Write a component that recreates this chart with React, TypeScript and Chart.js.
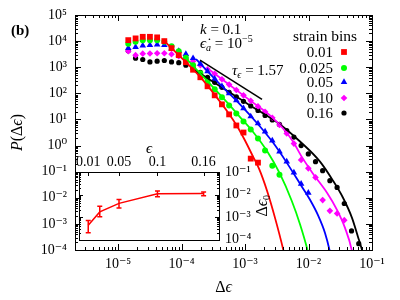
import React, { useEffect, useRef } from "react";
import { Chart, registerables } from "chart.js";
Chart.register(...registerables);

const FONT = "'Liberation Serif', 'DejaVu Serif', serif";

// ---- main panel data: binned strain increments (x) ----
const dEps = [1.45e-5, 1.89e-5, 2.45e-5, 3.18e-5, 4.13e-5, 5.36e-5, 6.96e-5, 9.04e-5, 1.17e-4, 1.52e-4, 1.98e-4, 2.57e-4, 3.33e-4, 4.33e-4, 5.62e-4, 7.30e-4, 9.47e-4, 1.23e-3, 1.60e-3, 2.07e-3, 2.69e-3, 3.49e-3, 4.54e-3, 5.89e-3, 7.65e-3, 9.93e-3, 1.29e-2, 1.67e-2, 2.17e-2, 2.82e-2, 3.66e-2, 4.76e-2, 6.18e-2];

// P(Δϵ) for each strain bin
const pBin001 = [1.09e4, 1.27e4, 1.46e4, 1.46e4, 1.39e4, 1.0e4, 5.38e3, 2.90e3, 1.56e3, 801, 412, 186, 83.8, 37.8, 15.6, 5.88, 3.16, 0.316, 0.222];
const pBin0025 = [7.88e3, 9.4e3, 1.09e4, 1.09e4, 1.09e4, 9.4e3, 6.42e3, 4.12e3, 2.32e3, 1.19e3, 588, 290, 143, 70.2, 34.5, 17.0, 8.38, 4.12, 1.86, 0.642, 0.170, 0.0767];
const pBin005 = [5.38e3, 5.88e3, 6.71e3, 7.02e3, 7.33e3, 7.02e3, 5.15e3, 4.12e3, 3.16e3, 2.22e3, 1.36e3, 702, 361, 186, 100, 53.8, 26.5, 13.0, 7.02, 3.45, 1.56, 0.588, 0.242, 0.0916, 0.0345, 0.0156];
const pBin010 = [4.12e3, 2.90e3, 3.31e3, 3.36e3, 3.45e3, 3.45e3, 3.16e3, 2.65e3, 2.22e3, 1.70e3, 1.19e3, 838, 562, 345, 216, 134, 83.8, 51.5, 31.6, 19.8, 11.6, 6.14, 2.90, 1.19, 0.282, 0.134, 0.0604, 0.00816, 0.00316, 0.00249, 0.00139];
const pBin016 = [4.24e3, 2.22e3, 1.98e3, 1.60e3, 1.70e3, 1.81e3, 1.60e3, 1.49e3, 1.19e3, 916, 642, 412, 265, 170, 109, 73.3, 49.3, 33.0, 22.2, 14.3, 9.57, 6.42, 3.78, 2.12, 1.0, 0.480, 0.242, 0.109, 0.0451, 0.0249, 0.00604, 5.38e-4, 1.75e-4];

// fitted curves
const fit001X = [5.36e-5, 8.40e-5, 1.265e-4, 1.907e-4, 3.584e-4, 5.40e-4, 7.40e-4, 1.0e-3, 1.336e-3, 1.661e-3, 2.221e-3, 2.968e-3, 4.01e-3, 4.43e-3];
const fit001Y = [1.0e4, 3.45e3, 1.30e3, 463, 70.2, 18.6, 5.88, 1.56, 0.378, 0.130, 0.0186, 1.70e-3, 1.0e-4, 3.2e-5];
const fit0025X = [1.135e-4, 1.956e-4, 3.37e-4, 5.40e-4, 8.34e-4, 1.351e-3, 2.196e-3, 3.557e-3, 5.437e-3, 7.346e-3, 9.57e-3, 1.018e-2];
const fit0025Y = [2.43e3, 588, 143, 41.2, 12.3, 3.25, 0.642, 0.0816, 7.67e-3, 9.73e-4, 1.06e-4, 5.4e-5];
const fit005X = [1.692e-4, 4.04e-4, 8.34e-4, 1.722e-3, 2.760e-3, 4.537e-3, 7.346e-3, 1.056e-2, 1.427e-2, 1.819e-2, 2.141e-2, 2.261e-2];
const fit005Y = [2.03e3, 222, 37.8, 5.38, 1.30, 0.222, 0.0345, 8.38e-3, 2.03e-3, 4.51e-4, 1.0e-4, 4.9e-5];
const fit010X = [2.81e-4, 5.80e-4, 1.199e-3, 2.476e-3, 3.967e-3, 5.70e-3, 7.62e-3, 1.177e-2, 1.956e-2, 2.81e-2, 3.757e-2, 4.79e-2, 5.02e-2];
const fit010Y = [767, 203, 53.8, 14.3, 4.51, 1.43, 0.412, 0.0838, 0.0156, 3.45e-3, 7.02e-4, 1.0e-4, 4.9e-5];
const fit016X = [1.632e-4, 4.04e-4, 1.199e-3, 3.557e-3, 7.346e-3, 1.518e-2, 2.431e-2, 3.494e-2, 4.84e-2, 6.02e-2, 6.96e-2, 7.35e-2];
const fit016Y = [767, 186, 34.5, 6.42, 1.43, 0.242, 0.0451, 0.01, 1.70e-3, 3.16e-4, 1.0e-4, 5.9e-5];

// reference power-law segment (slope τϵ)
const slopeX = [1.955e-4, 1.853e-3];
const slopeY = [1858, 58.8];

const seriesNames = ["0.01", "0.025", "0.05", "0.10", "0.16"];
const seriesColors = ["#ff0000", "#00ff00", "#0000ff", "#ff00ff", "#000000"];

const xTickVals = [1e-5, 1e-4, 1e-3, 1e-2, 1e-1];
const xTickLabels = ["10⁻⁵", "10⁻⁴", "10⁻³", "10⁻²", "10⁻¹"];
const yTickVals = [1e-4, 1e-3, 1e-2, 1e-1, 1, 10, 100, 1e3, 1e4, 1e5];
const yTickLabels = ["10⁻⁴", "10⁻³", "10⁻²", "10⁻¹", "10⁰", "10¹", "10²", "10³", "10⁴", "10⁵"];

// ---- inset data: cutoff Δϵ0 vs strain ϵ ----
const insetStrain = [0.01, 0.025, 0.05, 0.1, 0.16];
const insetCutoff = [4.3e-4, 1.68e-3, 4.03e-3, 1.07e-2, 1.1e-2];
const insetLow = [1.98e-4, 1.03e-3, 2.48e-3, 7.98e-3, 8.8e-3];
const insetHigh = [7.0e-4, 3.01e-3, 5.96e-3, 1.43e-2, 1.3e-2];
const insetXTicks = [0.01, 0.05, 0.1, 0.16];
const insetXLabels = ["0.01", "0.05", "0.1", "0.16"];
const insetYTicks = [1e-4, 1e-3, 1e-2, 1e-1];
const insetYLabels = ["10⁻⁴", "10⁻³", "10⁻²", "10⁻¹"];

type Seg = { t: string; it?: boolean; b?: boolean; sz?: number; dy?: number };
function fontOf(s: Seg, base: number) {
  return `${s.it ? "italic " : ""}${s.b ? "bold " : ""}${s.sz ?? base}px ${FONT}`;
}
function drawRich(ctx: CanvasRenderingContext2D, segs: Seg[], x: number, y: number, align: string, base = 15) {
  ctx.textBaseline = "alphabetic";
  ctx.textAlign = "left";
  let w = 0;
  for (const s of segs) { ctx.font = fontOf(s, base); w += ctx.measureText(s.t).width; }
  let cx = align === "left" ? x : align === "right" ? x - w : x - w / 2;
  for (const s of segs) {
    ctx.font = fontOf(s, base);
    ctx.fillText(s.t, cx, y + (s.dy ?? 0));
    cx += ctx.measureText(s.t).width;
  }
}

function drawMarker(ctx: CanvasRenderingContext2D, style: string, x: number, y: number, r: number, color: string) {
  ctx.fillStyle = color;
  ctx.beginPath();
  if (style === "rect") {
    const s = Math.SQRT1_2 * r;
    ctx.rect(x - s, y - s, 2 * s, 2 * s);
  } else if (style === "triangle") {
    ctx.moveTo(x, y - r);
    ctx.lineTo(x + r * 0.866, y + r * 0.5);
    ctx.lineTo(x - r * 0.866, y + r * 0.5);
    ctx.closePath();
  } else if (style === "rectRot") {
    ctx.moveTo(x, y - r); ctx.lineTo(x + r, y); ctx.lineTo(x, y + r); ctx.lineTo(x - r, y); ctx.closePath();
  } else {
    ctx.arc(x, y, r, 0, Math.PI * 2);
  }
  ctx.fill();
}

const markerStyles = ["rect", "circle", "triangle", "rectRot", "circle"];
const markerRadius = [4.1, 3.0, 3.8, 3.3, 2.6];

function logTicks(min: number, max: number) {
  const out: { v: number; major: boolean }[] = [];
  for (let e = Math.floor(Math.log10(min)) - 1; e <= Math.ceil(Math.log10(max)); e++) {
    for (let m = 1; m <= 9; m++) {
      const v = m * Math.pow(10, e);
      if (v >= min * 0.9999 && v <= max * 1.0001) out.push({ v, major: m === 1 });
    }
  }
  return out;
}

const mainDecor = {
  id: "mainDecor",
  afterDraw(chart: any) {
    const { ctx, chartArea: a, scales } = chart;
    const xs = scales.x, ys = scales.y;
    ctx.save();
    ctx.strokeStyle = "#000";
    ctx.lineWidth = 1;
    ctx.beginPath();
    for (const t of logTicks(xs.min, xs.max)) {
      const px = Math.round(xs.getPixelForValue(t.v)) + 0.5;
      const len = t.major ? 6 : 3;
      ctx.moveTo(px, a.bottom); ctx.lineTo(px, a.bottom - len);
      ctx.moveTo(px, a.top); ctx.lineTo(px, a.top + len);
    }
    for (const t of logTicks(ys.min, ys.max)) {
      const py = Math.round(ys.getPixelForValue(t.v)) + 0.5;
      const len = t.major ? 6 : 3;
      ctx.moveTo(a.left, py); ctx.lineTo(a.left + len, py);
      ctx.moveTo(a.right, py); ctx.lineTo(a.right - len, py);
    }
    ctx.stroke();
    ctx.strokeRect(Math.round(a.left) + 0.5, Math.round(a.top) + 0.5, Math.round(a.right - a.left), Math.round(a.bottom - a.top));

    ctx.fillStyle = "#000";
    // panel label
    drawRich(ctx, [{ t: "(b)", b: true }], 11, 35, "left", 15);
    // axis titles
    drawRich(ctx, [{ t: "Δ" }, { t: "ϵ", it: true }], (a.left + a.right) / 2, 292, "center", 16);
    ctx.save();
    ctx.translate(17, (a.top + a.bottom) / 2);
    ctx.rotate(-Math.PI / 2);
    drawRich(ctx, [{ t: "P", it: true }, { t: "(Δ" }, { t: "ϵ", it: true }, { t: ")" }], 0, 5, "center", 16);
    ctx.restore();
    // annotations
    drawRich(ctx, [{ t: "k", it: true }, { t: " = 0.1" }], 200, 34, "left", 15);
    drawRich(ctx, [{ t: "ϵ̇", it: true }, { t: "a", it: true, sz: 10, dy: 3 }, { t: " = 10" }, { t: "−5", sz: 10, dy: -6 }], 200, 48, "left", 15);
    drawRich(ctx, [{ t: "τ", it: true }, { t: "ϵ", it: true, sz: 10, dy: 3 }, { t: " = 1.57" }], 232, 75, "left", 15);
    // legend
    drawRich(ctx, [{ t: "strain bins" }], 293, 41, "left", 15.5);
    const legY = [52, 68, 82, 98, 113];
    seriesNames.forEach((n, i) => {
      ctx.fillStyle = "#000";
      drawRich(ctx, [{ t: n }], 333, legY[i] + 5, "right", 15);
      drawMarker(ctx, markerStyles[i], 344, legY[i], markerRadius[i], seriesColors[i]);
    });
    ctx.restore();
  },
};

const insetDecor = {
  id: "insetDecor",
  beforeDraw(chart: any) {
    const { ctx, chartArea: a } = chart;
    ctx.save();
    ctx.fillStyle = "#fff";
    ctx.fillRect(a.left, a.top, a.right - a.left, a.bottom - a.top);
    ctx.restore();
  },
  afterDraw(chart: any) {
    const { ctx, chartArea: a, scales } = chart;
    const xs = scales.x, ys = scales.y;
    ctx.save();
    ctx.strokeStyle = "#000";
    ctx.lineWidth = 1;
    ctx.beginPath();
    for (const v of insetXTicks) {
      const px = Math.round(xs.getPixelForValue(v)) + 0.5;
      ctx.moveTo(px, a.top); ctx.lineTo(px, a.top + 4);
    }
    for (const t of logTicks(ys.min, ys.max)) {
      const py = Math.round(ys.getPixelForValue(t.v)) + 0.5;
      const len = t.major ? 4 : 2;
      ctx.moveTo(a.left, py); ctx.lineTo(a.left + len, py);
      ctx.moveTo(a.right, py); ctx.lineTo(a.right - len, py);
    }
    ctx.stroke();
    ctx.strokeRect(Math.round(a.left) + 0.5, Math.round(a.top) + 0.5, Math.round(a.right - a.left), Math.round(a.bottom - a.top));
    ctx.fillStyle = "#000";
    drawRich(ctx, [{ t: "ϵ", it: true }], (a.left + a.right) / 2, 23, "center", 15);
    ctx.save();
    ctx.translate(192, (a.top + a.bottom) / 2);
    ctx.rotate(-Math.PI / 2);
    drawRich(ctx, [{ t: "Δ" }, { t: "ϵ", it: true }, { t: "0", sz: 10, dy: 3 }], 0, 5, "center", 16);
    ctx.restore();
    ctx.restore();
  },
};

function pts(xs: number[], ys: number[]) {
  return ys.map((y, i) => ({ x: xs[i], y }));
}

function fixPad(s: any) {
  s.paddingTop = 0; s.paddingBottom = 0; s.paddingLeft = 0; s.paddingRight = 0;
}

export default function App() {
  const mainRef = useRef<HTMLCanvasElement>(null);
  const insetRef = useRef<HTMLCanvasElement>(null);

  useEffect(() => {
    const binVals = [pBin001, pBin0025, pBin005, pBin010, pBin016];
    const fits: [number[], number[]][] = [[fit001X, fit001Y], [fit0025X, fit0025Y], [fit005X, fit005Y], [fit010X, fit010Y], [fit016X, fit016Y]];
    const lineSets: any[] = fits.map(([fx, fy], i) => ({
      data: pts(fx, fy),
      borderColor: seriesColors[i],
      borderWidth: 1.8,
      pointRadius: 0,
      cubicInterpolationMode: "monotone",
      clip: 0,
    }));
    const slopeSet: any = {
      data: pts(slopeX, slopeY),
      borderColor: "#000",
      borderWidth: 1.5,
      pointRadius: 0,
    };
    const pointSets: any[] = binVals.map((vals, i) => ({
      data: pts(dEps, vals),
      showLine: false,
      pointStyle: markerStyles[i],
      pointRadius: markerRadius[i],
      pointBackgroundColor: seriesColors[i],
      pointBorderColor: seriesColors[i],
      pointBorderWidth: 0,
    }));

    const main = new Chart(mainRef.current as HTMLCanvasElement, {
      type: "line",
      data: { datasets: [...lineSets, slopeSet, ...pointSets] },
      options: {
        animation: false,
        responsive: false,
        events: [],
        layout: { padding: { left: 0, top: 15, right: 28, bottom: 0 } },
        plugins: { legend: { display: false }, tooltip: { enabled: false } },
        scales: {
          x: {
            type: "logarithmic",
            min: 2.1e-6,
            max: 0.1,
            grid: { display: false, drawTicks: false },
            border: { display: false },
            afterBuildTicks: (s: any) => { s.ticks = xTickVals.map((v) => ({ value: v })); },
            afterFit: (s: any) => { s.height = 50; fixPad(s); },
            ticks: { autoSkip: false, maxRotation: 0, padding: 6, color: "#000", font: { family: FONT, size: 14 }, callback: (_v: any, i: number) => xTickLabels[i] },
          },
          y: {
            type: "logarithmic",
            min: 1e-4,
            max: 1e5,
            grid: { display: false, drawTicks: false },
            border: { display: false },
            afterBuildTicks: (s: any) => { s.ticks = yTickVals.map((v) => ({ value: v })); },
            afterFit: (s: any) => { s.width = 75; fixPad(s); },
            ticks: { autoSkip: false, padding: 8, color: "#000", font: { family: FONT, size: 14 }, callback: (_v: any, i: number) => yTickLabels[i] },
          },
        },
      } as any,
      plugins: [mainDecor],
    });

    const barData: any[] = [];
    insetStrain.forEach((x, i) => {
      barData.push({ x, y: insetLow[i] }, { x, y: insetHigh[i] }, { x, y: NaN });
    });
    const inset = new Chart(insetRef.current as HTMLCanvasElement, {
      type: "line",
      data: {
        datasets: [
          { data: pts(insetStrain, insetCutoff), borderColor: "#ff0000", borderWidth: 1.5, pointRadius: 0 },
          { data: barData, borderColor: "#ff0000", borderWidth: 1.5, pointRadius: 0, spanGaps: false },
          { data: pts(insetStrain, insetLow), showLine: false, pointStyle: "line", pointRadius: 2.5, pointBorderColor: "#ff0000", pointBorderWidth: 1.5 },
          { data: pts(insetStrain, insetHigh), showLine: false, pointStyle: "line", pointRadius: 2.5, pointBorderColor: "#ff0000", pointBorderWidth: 1.5 },
        ] as any,
      },
      options: {
        animation: false,
        responsive: false,
        events: [],
        layout: { padding: { left: 9, top: 0, right: 0, bottom: 2 } },
        plugins: { legend: { display: false }, tooltip: { enabled: false } },
        scales: {
          x: {
            type: "linear",
            position: "top",
            min: -0.002,
            max: 0.18,
            grid: { display: false, drawTicks: false },
            border: { display: false },
            afterBuildTicks: (s: any) => { s.ticks = insetXTicks.map((v) => ({ value: v })); },
            afterFit: (s: any) => { s.height = 42; fixPad(s); },
            ticks: { autoSkip: false, maxRotation: 0, padding: 1, color: "#000", font: { family: FONT, size: 14 }, callback: (_v: any, i: number) => insetXLabels[i] },
          },
          y: {
            type: "logarithmic",
            position: "right",
            min: 1e-4,
            max: 0.1,
            grid: { display: false, drawTicks: false },
            border: { display: false },
            afterBuildTicks: (s: any) => { s.ticks = insetYTicks.map((v) => ({ value: v })); },
            afterFit: (s: any) => { s.width = 61; fixPad(s); },
            ticks: { autoSkip: false, padding: 6, color: "#000", font: { family: FONT, size: 14 }, callback: (_v: any, i: number) => insetYLabels[i] },
          },
        },
      } as any,
      plugins: [insetDecor],
    });

    return () => {
      main.destroy();
      inset.destroy();
    };
  }, []);

  return (
    <div style={{ position: "absolute", left: 0, top: 0, width: 400, height: 300, background: "#fff" }}>
      <canvas ref={mainRef} width={400} height={300} style={{ position: "absolute", left: 0, top: 0, width: 400, height: 300 }} />
      <canvas ref={insetRef} width={210} height={115} style={{ position: "absolute", left: 70, top: 130, width: 210, height: 115 }} />
    </div>
  );
}
